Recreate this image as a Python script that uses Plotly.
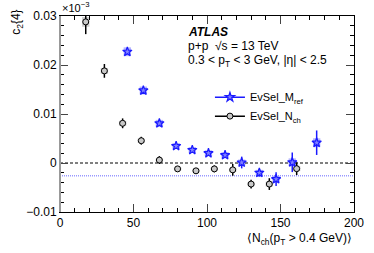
import plotly.graph_objects as go

# ---- data ----
nch_x = [17.5, 30.2, 42.6, 55.3, 67.6, 80.0, 92.5, 105.0, 117.5, 130.0, 142.4, 161.0]
nch_y = [0.0288, 0.0188, 0.0081, 0.00455, 0.0006, -0.0012, -0.0016, -0.0012, -0.0014, -0.0043, -0.0043, -0.00116]
nch_err = [0.0025, 0.0014, 0.0010, 0.0008, 0.0008, 0.0006, 0.0006, 0.0007, 0.0012, 0.0009, 0.0012, 0.0013]
nch_sys = [0.0010, 0.0006, 0.0005, 0.0004, 0.0003, 0.0003, 0.0003, 0.0003, 0.0004, 0.0004, 0.0005, 0.0005]

mref_x = [45.8, 56.7, 67.6, 79.0, 90.0, 101.0, 112.3, 123.6, 135.6, 147.0, 158.0, 174.6]
mref_y = [0.0227, 0.0148, 0.0081, 0.00347, 0.00265, 0.0020, 0.0016, 0.0001, -0.0020, -0.0033, 0.00014, 0.00414]
mref_err = [0.0005, 0.0004, 0.0004, 0.0004, 0.0004, 0.0004, 0.0006, 0.0012, 0.0008, 0.0014, 0.0020, 0.0025]
mref_sys = [0.0009, 0.0008, 0.0007, 0.0006, 0.0006, 0.0006, 0.0006, 0.0006, 0.0006, 0.0007, 0.0008, 0.0009]

x_range = [0, 200]
y_range = [-0.01, 0.03]
zero_level = 0.0
ref_level = -0.0026

x_tickvals = [0, 50, 100, 150, 200]
x_ticktext = ["0", "50", "100", "150", "200"]
y_tickvals = [-0.01, 0.0, 0.01, 0.02, 0.03]
y_ticktext = ["\u22120.01", "0", "0.01", "0.02", "0.03"]

name_mref = "EvSel_M<sub>ref</sub>"
name_nch = "EvSel_N<sub>ch</sub>"

FONT = "Liberation Sans, Arial, Helvetica, sans-serif"
BLUE = "#1a1aff"
BOX_W = 5.0

fig = go.Figure()

# reference lines
fig.add_trace(go.Scatter(x=x_range, y=[ref_level, ref_level], mode="lines",
                         line=dict(color="rgba(110,110,255,0.7)", width=1.5, dash="1px,1px"),
                         showlegend=False, hoverinfo="skip"))
fig.add_trace(go.Scatter(x=x_range, y=[zero_level, zero_level], mode="lines",
                         line=dict(color="black", width=1, dash="3px,2px"),
                         showlegend=False, hoverinfo="skip"))

# systematic boxes
fig.add_trace(go.Bar(x=nch_x, y=[2 * s for s in nch_sys],
                     base=[v - s for v, s in zip(nch_y, nch_sys)],
                     width=BOX_W, marker=dict(color="rgba(150,150,150,0.45)", line=dict(width=0)),
                     showlegend=False, hoverinfo="skip"))
fig.add_trace(go.Bar(x=mref_x, y=[2 * s for s in mref_sys],
                     base=[v - s for v, s in zip(mref_y, mref_sys)],
                     width=BOX_W, marker=dict(color="rgba(40,40,255,0.35)", line=dict(width=0)),
                     showlegend=False, hoverinfo="skip"))

# points
fig.add_trace(go.Scatter(x=nch_x, y=nch_y, mode="markers",
                         error_y=dict(type="data", array=nch_err, color="black", thickness=1.5, width=0),
                         marker=dict(symbol="circle", size=6, color="#c8c8c8",
                                     line=dict(color="black", width=1)),
                         showlegend=False))
fig.add_trace(go.Scatter(x=mref_x, y=mref_y, mode="markers",
                         error_y=dict(type="data", array=mref_err, color=BLUE, thickness=1.5, width=0),
                         marker=dict(symbol="star", size=7, color="rgba(130,130,255,1)",
                                     line=dict(color=BLUE, width=1.2)),
                         showlegend=False))

# legend entries
fig.add_trace(go.Scatter(x=[None], y=[None], mode="lines+markers", name=name_mref,
                         line=dict(color=BLUE, width=1.5),
                         marker=dict(symbol="star", size=7, color="rgba(130,130,255,1)",
                                     line=dict(color=BLUE, width=1.2))))
fig.add_trace(go.Scatter(x=[None], y=[None], mode="lines+markers", name=name_nch,
                         line=dict(color="black", width=1.5),
                         marker=dict(symbol="circle", size=6, color="#c8c8c8",
                                     line=dict(color="black", width=1))))

axis_common = dict(showgrid=False, zeroline=False, ticks="inside", mirror="ticks",
                   showline=True, linecolor="black", linewidth=1, automargin=False,
                   tickfont=dict(family=FONT, size=12, color="black"))

fig.update_layout(
    width=374, height=253,
    margin=dict(l=60, r=20, t=16, b=41, autoexpand=False),
    paper_bgcolor="white", plot_bgcolor="white",
    barmode="overlay",
    font=dict(family=FONT, size=12, color="black"),
    xaxis=dict(range=x_range, tickvals=x_tickvals, ticktext=x_ticktext, ticklen=8,
               minor=dict(ticks="inside", dtick=10, ticklen=4, tickcolor="black"),
               **axis_common),
    yaxis=dict(range=y_range, tickvals=y_tickvals, ticktext=y_ticktext, ticklen=8,
               minor=dict(ticks="inside", dtick=0.002, ticklen=4, tickcolor="black"),
               **axis_common),
    legend=dict(x=0.51, y=0.66, xanchor="left", yanchor="top",
                bgcolor="rgba(0,0,0,0)", font=dict(family=FONT, size=11),
                itemwidth=30, tracegroupgap=0),
)

# left axis drawn gray like the reference
fig.add_shape(type="line", xref="paper", yref="paper", x0=0, x1=0, y0=0, y1=1,
              line=dict(color="#999999", width=2))

annots = [
    dict(text="\u00d710<sup>\u22123</sup>", x=0, y=1.0, xanchor="left", yanchor="bottom", font=dict(size=11)),
    dict(text="c<sub>2</sub>{4}", x=-0.146, y=1.04, xanchor="center", yanchor="top", textangle=-90,
         font=dict(size=12)),
    dict(text="\u27e8N<sub>ch</sub>(p<sub>T</sub> > 0.4 GeV)\u27e9", x=1.0, y=-0.14,
         xanchor="right", yanchor="middle", font=dict(size=12)),
    dict(text="<b><i>ATLAS</i></b>", x=0.429, y=0.918, xanchor="left", yanchor="middle", font=dict(size=12)),
    dict(text="p+p  \u221as = 13 TeV", x=0.429, y=0.847, xanchor="left", yanchor="middle", font=dict(size=12)),
    dict(text="0.3 < p<sub>T</sub> < 3 GeV, |\u03b7| < 2.5", x=0.429, y=0.772, xanchor="left",
         yanchor="middle", font=dict(size=12)),
]
for a in annots:
    fig.add_annotation(xref="paper", yref="paper", showarrow=False, **a)

fig.write_html("out.html", config={"displayModeBar": False},
               post_script="document.body.style.margin='0';document.body.style.overflow='hidden';")
